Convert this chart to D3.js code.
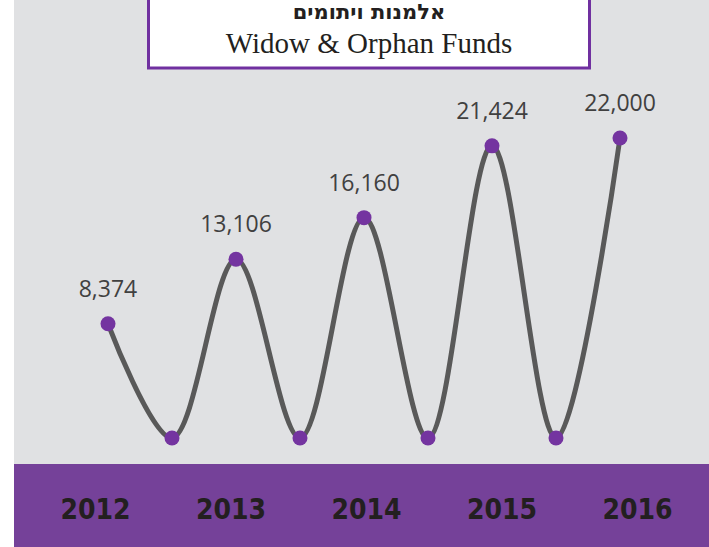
<!DOCTYPE html>
<html>
<head>
<meta charset="utf-8">
<script src="https://cdn.jsdelivr.net/npm/d3@7"></script>
<style>
  body { margin: 0; background: #fff; }
</style>
</head>
<body>
<div id="chart"></div>
<script>
// Series: yearly points with a zero dip between each pair
const pointLabels = ['2012', 'dip1', '2013', 'dip2', '2014', 'dip3', '2015', 'dip4', '2016'];
const pointValues = [8374, 0, 13106, 0, 16160, 0, 21424, 0, 22000];
const years = ['2012', '2013', '2014', '2015', '2016'];
const titleHe = 'אלמנות ויתומים';
const titleEn = 'Widow & Orphan Funds';

const W = 709, H = 547;
const svg = d3.select('#chart').append('svg')
    .attr('width', W)
    .attr('height', H);

// Grey panel and purple band
svg.append('rect')
    .attr('x', 14).attr('y', 0)
    .attr('width', W - 14).attr('height', 464)
    .attr('fill', '#e0e1e3');

svg.append('rect')
    .attr('x', 14).attr('y', 464)
    .attr('width', W - 14).attr('height', H - 464)
    .attr('fill', '#754199');

// Scales
const x = d3.scalePoint()
    .domain(pointLabels)
    .range([108, 620]);

const y = d3.scaleLinear()
    .domain([0, 22000])
    .range([438, 138]);

const xYear = d3.scalePoint()
    .domain(years)
    .range([95, 637]);

const data = pointLabels.map((k, i) => ({ key: k, value: pointValues[i] }));

// Smooth line
const line = d3.line()
    .x(d => x(d.key))
    .y(d => y(d.value))
    .curve(d3.curveCatmullRom.alpha(0.5));

svg.append('path')
    .datum(data)
    .attr('d', line)
    .attr('fill', 'none')
    .attr('stroke', '#595959')
    .attr('stroke-width', 5)
    .attr('stroke-linecap', 'round');

svg.selectAll('.dot')
    .data(data)
    .enter().append('circle')
    .attr('class', 'dot')
    .attr('cx', d => x(d.key))
    .attr('cy', d => y(d.value))
    .attr('r', 7.5)
    .attr('fill', '#7434a0');

// Value labels (only on the year points)
svg.selectAll('.val')
    .data(data.filter(d => d.value > 0))
    .enter().append('text')
    .attr('class', 'val')
    .attr('x', d => x(d.key))
    .attr('y', d => y(d.value) - 27)
    .attr('text-anchor', 'middle')
    .style('font-family', '"Open Sans", sans-serif')
    .style('font-size', '23px')
    .style('fill', '#404040')
    .text(d => d3.format(',')(d.value));

// Year axis in the purple band
svg.append('g')
    .attr('transform', 'translate(0,519)')
    .call(d3.axisBottom(xYear).tickSize(0).tickPadding(0))
    .call(g => g.select('.domain').remove())
    .selectAll('text')
    .attr('dy', 0)
    .style('font-family', '"DejaVu Sans Condensed", "DejaVu Sans", sans-serif')
    .style('font-stretch', 'condensed')
    .style('font-weight', 'bold')
    .style('font-size', '28px')
    .style('fill', '#231f20');

// Title box
svg.append('rect')
    .attr('x', 148.5).attr('y', -10)
    .attr('width', 441).attr('height', 78)
    .attr('fill', '#fff')
    .attr('stroke', '#7030a0')
    .attr('stroke-width', 3);

svg.append('text')
    .attr('x', 369).attr('y', 19)
    .attr('text-anchor', 'middle')
    .attr('direction', 'rtl')
    .style('font-family', '"DejaVu Sans", sans-serif')
    .style('font-weight', 'bold')
    .style('font-size', '21px')
    .style('fill', '#231f20')
    .text(titleHe);

svg.append('text')
    .attr('x', 369).attr('y', 53)
    .attr('text-anchor', 'middle')
    .style('font-family', '"Liberation Serif", serif')
    .style('font-size', '29px')
    .style('fill', '#231f20')
    .text(titleEn);
</script>
</body>
</html>
